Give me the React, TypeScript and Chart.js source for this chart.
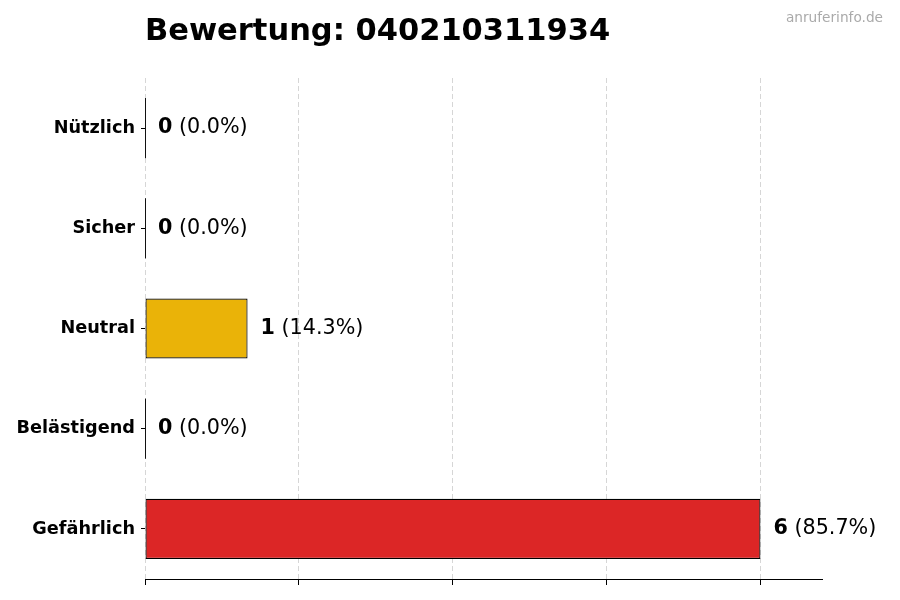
import { useEffect, useRef } from 'react';
import { Chart, registerables, type Plugin } from 'chart.js';

Chart.register(...registerables);

const categories = ['Nützlich', 'Sicher', 'Neutral', 'Belästigend', 'Gefährlich'];
const counts = [0, 0, 1, 0, 6];
const barColors = ['#16a34a', '#3b82f6', '#eab308', '#f97316', '#dc2626'];
const titleText = 'Bewertung: 040210311934';
const watermark = 'anruferinfo.de';

const FONT = "'DejaVu Sans', sans-serif";

const total = counts.reduce((a, b) => a + b, 0);

// value labels, zero-width bar edges, title and watermark
const overlay: Plugin<'bar'> = {
  id: 'overlay',
  afterDatasetsDraw(chart) {
    const ctx = chart.ctx;
    const meta = chart.getDatasetMeta(0);
    ctx.save();
    meta.data.forEach((el: any, i) => {
      const v = counts[i];
      const h = el.height;
      if (v === 0) {
        ctx.strokeStyle = '#111';
        ctx.lineWidth = 1;
        ctx.beginPath();
        ctx.moveTo(el.base + 0.5, el.y - h / 2);
        ctx.lineTo(el.base + 0.5, el.y + h / 2);
        ctx.stroke();
      }
      const pct = total ? ((v / total) * 100).toFixed(1) : '0.0';
      let x = el.x + 13;
      ctx.fillStyle = '#000';
      ctx.textBaseline = 'middle';
      ctx.textAlign = 'left';
      ctx.font = `bold 20.7px ${FONT}`;
      const boldTxt = String(v);
      ctx.fillText(boldTxt, x, el.y);
      x += ctx.measureText(boldTxt).width;
      ctx.font = `20.7px ${FONT}`;
      ctx.fillText(` (${pct}%)`, x, el.y);
    });
    ctx.restore();
  },
  afterDraw(chart) {
    const ctx = chart.ctx;
    ctx.save();
    ctx.fillStyle = '#000';
    ctx.textBaseline = 'alphabetic';
    ctx.textAlign = 'left';
    ctx.font = `bold 30.5px ${FONT}`;
    ctx.fillText(titleText, chart.chartArea.left, 40);
    ctx.fillStyle = '#aaaaaa';
    ctx.textAlign = 'right';
    ctx.font = `13.7px ${FONT}`;
    ctx.fillText(watermark, 883, 22);
    ctx.restore();
  },
};

export default function App() {
  const canvasRef = useRef<HTMLCanvasElement>(null);
  const chartRef = useRef<Chart | null>(null);

  useEffect(() => {
    if (!canvasRef.current) return;
    if (chartRef.current) chartRef.current.destroy();

    chartRef.current = new Chart(canvasRef.current, {
      type: 'bar',
      data: {
        labels: categories,
        datasets: [
          {
            data: counts,
            backgroundColor: barColors,
            borderColor: '#000',
            borderWidth: 1.2,
            borderSkipped: false,
            barPercentage: 0.6,
            categoryPercentage: 1,
          },
        ],
      },
      options: {
        indexAxis: 'y',
        animation: false,
        responsive: false,
        layout: { padding: { top: 78, right: 78, bottom: 15, left: 0 } },
        plugins: {
          legend: { display: false },
          tooltip: { enabled: false },
          title: { display: false },
        },
        scales: {
          x: {
            min: 0,
            max: 6.6,
            ticks: { display: false, stepSize: 1.5 },
            afterBuildTicks: (s: any) => {
              s.ticks = s.ticks.filter((t: any) => t.value <= 6);
            },
            grid: {
              color: '#d6d6d6',
              lineWidth: 1,
              tickColor: '#000',
              tickLength: 6,
              drawTicks: true,
            },
            border: { display: true, color: '#000', width: 1, dash: [5, 3] },
            afterFit: (s: any) => {
              s.height = 6;
            },
          },
          y: {
            offset: true,
            ticks: {
              color: '#000',
              font: { family: FONT, size: 17.7, weight: 'bold' },
              padding: 6,
            },
            grid: {
              offset: false,
              drawOnChartArea: false,
              color: '#000',
              tickColor: '#000',
              tickLength: 4,
            },
            border: { display: false },
            afterFit: (s: any) => {
              s.width = 145;
            },
          },
        },
      },
      plugins: [overlay],
    });

    return () => {
      if (chartRef.current) {
        chartRef.current.destroy();
        chartRef.current = null;
      }
    };
  }, []);

  return (
    <div style={{ position: 'fixed', left: 0, top: 0, width: 900, height: 600, background: '#fff' }}>
      <canvas ref={canvasRef} width={900} height={600} />
    </div>
  );
}
